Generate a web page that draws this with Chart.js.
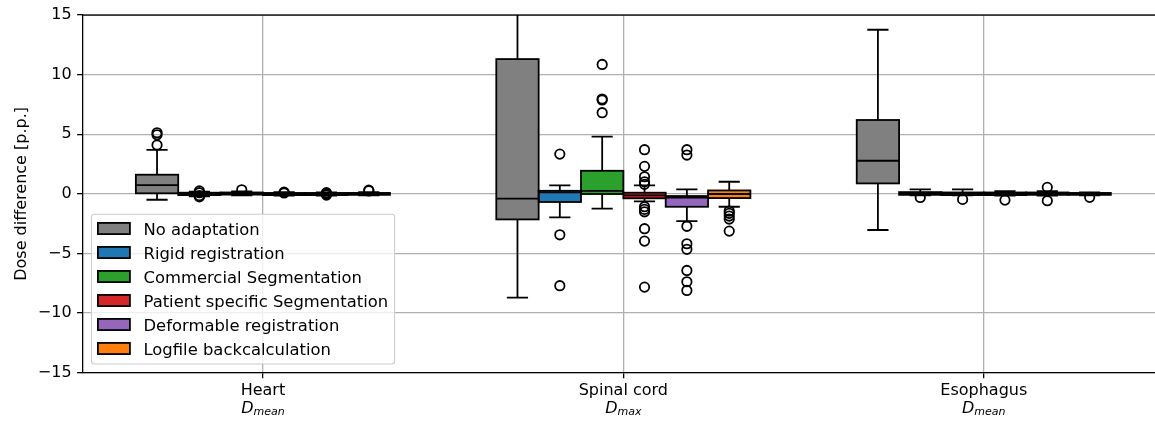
<!DOCTYPE html>
<html>
<head>
<meta charset="utf-8">
<script src="https://cdn.jsdelivr.net/npm/chart.js@4.4.1/dist/chart.umd.min.js"></script>
<style>
  html, body { margin: 0; padding: 0; background: #fff; overflow: hidden; }
  #wrap { width: 1165px; height: 421px; position: relative; }
</style>
</head>
<body>
<div id="wrap"><canvas id="c" width="1165" height="421"></canvas></div>
<script>
// ---- data ----
const categories = ['Heart', 'Spinal cord', 'Esophagus'];
const metricSub = ['mean', 'max', 'mean'];
const seriesNames = ['No adaptation', 'Rigid registration', 'Commercial Segmentation',
  'Patient specific Segmentation', 'Deformable registration', 'Logfile backcalculation'];
const seriesColors = ['#808080', '#1f77b4', '#2ca02c', '#d62728', '#9467bd', '#ff7f0e'];
const yTicks = [-15, -10, -5, 0, 5, 10, 15];

// [series][category]
const q1 = [
  [0.05, -2.14, 0.88],
  [-0.10, -0.68, -0.08],
  [-0.06, -0.01, -0.10],
  [-0.10, -0.37, -0.10],
  [-0.10, -1.08, -0.08],
  [-0.08, -0.35, -0.08]
];
const q3 = [
  [1.61, 11.31, 6.20],
  [0.10, 0.26, 0.15],
  [0.12, 1.94, 0.12],
  [0.08, 0.10, 0.12],
  [0.08, -0.18, 0.12],
  [0.08, 0.29, 0.08]
];
const median = [
  [0.74, -0.40, 2.78],
  [0.00, 0.13, 0.05],
  [0.05, 0.26, 0.03],
  [-0.02, -0.12, 0.00],
  [-0.02, -0.30, 0.00],
  [0.00, -0.01, -0.02]
];
const whiskerLow = [
  [-0.49, -8.71, -3.03],
  [-0.20, -1.97, -0.12],
  [-0.12, -1.24, -0.12],
  [-0.15, -0.63, -0.15],
  [-0.15, -2.28, -0.15],
  [-0.12, -1.08, -0.12]
];
const whiskerHigh = [
  [3.70, 16.50, 13.77],
  [0.18, 0.71, 0.38],
  [0.20, 4.80, 0.38],
  [0.14, 0.71, 0.24],
  [0.12, 0.38, 0.24],
  [0.14, 1.02, 0.12]
];
const outliers = [
  [[5.13, 4.96, 4.10], [], []],
  [[0.25, 0.10, -0.15, -0.25], [3.34, -3.43, -7.70], [-0.30]],
  [[0.35], [10.86, 7.96, 7.88, 6.81], [-0.46]],
  [[0.15, 0.08], [3.71, 2.31, 1.44, 1.02, 0.80, -1.08, -1.30, -1.50, -2.92, -3.96, -7.82], [-0.52]],
  [[0.10, -0.10, 0.00], [3.71, 3.26, -2.72, -4.18, -4.65, -6.42, -7.37, -8.10], [0.55, -0.57]],
  [[0.32, 0.25], [-1.44, -1.63, -1.86, -2.11, -3.12], [-0.29]]
];

// ---- rendering ----
const FONT = "'DejaVu Sans', 'Liberation Sans', sans-serif";
Chart.defaults.font.family = FONT;
Chart.defaults.color = '#000';

const datasets = seriesNames.map((name, i) => ({
  label: name,
  data: categories.map((c, j) => [q1[i][j], q3[i][j]]),
  backgroundColor: seriesColors[i],
  borderWidth: 0,
  barPercentage: 1.0,
  categoryPercentage: 0.705
}));

function line(ctx, x1, y1, x2, y2) {
  ctx.beginPath(); ctx.moveTo(x1, y1); ctx.lineTo(x2, y2); ctx.stroke();
}

const boxPlugin = {
  id: 'boxExtras',
  afterDatasetsDraw(chart) {
    const ctx = chart.ctx, ys = chart.scales.y, a = chart.chartArea;
    ctx.save();
    ctx.beginPath(); ctx.rect(a.left, a.top, a.right - a.left, a.bottom - a.top); ctx.clip();
    ctx.strokeStyle = '#000';
    ctx.lineWidth = 1.8;
    chart.data.datasets.forEach((ds, i) => {
      const meta = chart.getDatasetMeta(i);
      meta.data.forEach((el, j) => {
        const p = el.getProps(['x', 'width'], true);
        const x = p.x, hw = p.width / 2;
        const pq1 = ys.getPixelForValue(q1[i][j]);
        const pq3 = ys.getPixelForValue(q3[i][j]);
        const pmed = ys.getPixelForValue(median[i][j]);
        const plo = ys.getPixelForValue(whiskerLow[i][j]);
        const phi = ys.getPixelForValue(whiskerHigh[i][j]);
        ctx.strokeRect(x - hw, pq3, 2 * hw, pq1 - pq3);
        line(ctx, x, pq3, x, phi);
        line(ctx, x, pq1, x, plo);
        line(ctx, x - hw / 2, phi, x + hw / 2, phi);
        line(ctx, x - hw / 2, plo, x + hw / 2, plo);
        line(ctx, x - hw, pmed, x + hw, pmed);
        outliers[i][j].forEach(v => {
          ctx.beginPath();
          ctx.arc(x, ys.getPixelForValue(v), 4.7, 0, Math.PI * 2);
          ctx.stroke();
        });
      });
    });
    ctx.restore();
  },
  afterDraw(chart) {
    const ctx = chart.ctx, a = chart.chartArea, xs = chart.scales.x;
    ctx.save();
    // top spine
    ctx.strokeStyle = '#000'; ctx.lineWidth = 1.3;
    line(ctx, a.left - 0.65, a.top, a.right, a.top);

    // second line of x labels: D_{sub}
    ctx.fillStyle = '#000';
    ctx.textBaseline = 'alphabetic';
    categories.forEach((c, j) => {
      const cx = xs.getPixelForTick(j);
      ctx.font = "italic 16px " + FONT;
      const wD = ctx.measureText('D').width;
      ctx.font = "italic 11px " + FONT;
      const wS = ctx.measureText(metricSub[j]).width;
      const x0 = cx - (wD + wS) / 2;
      ctx.font = "italic 16px " + FONT;
      ctx.textAlign = 'left';
      ctx.fillText('D', x0, 412.7);
      ctx.font = "italic 11px " + FONT;
      ctx.fillText(metricSub[j], x0 + wD, 415.2);
    });

    // legend (lower left inside plot area)
    ctx.font = "16.4px " + FONT;
    let maxW = 0;
    seriesNames.forEach(n => { maxW = Math.max(maxW, ctx.measureText(n).width); });
    const fl = a.left + 8.8, fb = a.bottom - 8.7;
    const rowH = 24, n = seriesNames.length;
    const ft = fb - 15.5 - (n - 1) * rowH - 14.3;
    const patchL = fl + 6.4, textL = patchL + 32 + 13.6;
    const fr = textL + maxW + 6.5;
    ctx.beginPath();
    ctx.roundRect(fl, ft, fr - fl, fb - ft, 3);
    ctx.fillStyle = 'rgba(255,255,255,0.8)';
    ctx.fill();
    ctx.strokeStyle = '#cccccc'; ctx.lineWidth = 1.1;
    ctx.stroke();
    seriesNames.forEach((name, i) => {
      const cy = fb - 15.5 - (n - 1 - i) * rowH;
      ctx.fillStyle = seriesColors[i];
      ctx.fillRect(patchL, cy - 5.6, 32, 11.2);
      ctx.strokeStyle = '#000'; ctx.lineWidth = 1.8;
      ctx.strokeRect(patchL, cy - 5.6, 32, 11.2);
      ctx.fillStyle = '#000';
      ctx.textAlign = 'left';
      ctx.textBaseline = 'alphabetic';
      ctx.fillText(name, textL, cy + 6);
    });
    ctx.restore();
  }
};

new Chart(document.getElementById('c'), {
  type: 'bar',
  data: { labels: categories, datasets },
  plugins: [boxPlugin],
  options: {
    responsive: false,
    animation: false,
    devicePixelRatio: 1,
    layout: { padding: { top: 15, right: 1, bottom: 0, left: 0 } },
    plugins: { legend: { display: false }, tooltip: { enabled: false } },
    scales: {
      x: {
        grid: { offset: false, color: '#b0b0b0', lineWidth: 1.3, tickColor: '#000', tickLength: 5.6 },
        border: { color: '#000', width: 1.3 },
        ticks: { font: { size: 16 }, color: '#000', padding: 2.5, maxRotation: 0 },
        afterFit(s) { s.height = 421 - 372.7; }
      },
      y: {
        min: -15, max: 15,
        afterBuildTicks(s) { s.ticks = yTicks.map(v => ({ value: v })); },
        grid: { color: '#b0b0b0', lineWidth: 1.3, tickColor: '#000', tickLength: 5.6 },
        border: { color: '#000', width: 1.3 },
        ticks: {
          font: { size: 16 }, color: '#000', padding: 5.5,
          callback: v => String(v).replace('-', '\u2212')
        },
        title: {
          display: true, text: 'Dose difference [p.p.]', color: '#000',
          font: { size: 16 }, padding: { top: 12, bottom: 0 }
        },
        afterFit(s) { s.width = 82.7; }
      }
    }
  }
});
</script>
</body>
</html>
